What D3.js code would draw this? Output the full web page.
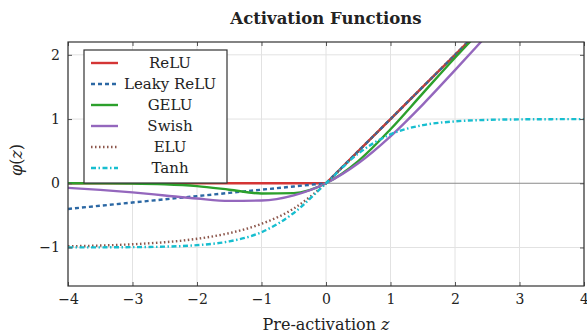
<!DOCTYPE html>
<html>
<head>
  <meta charset="utf-8">
  <title>Activation Functions</title>
  <script src="https://d3js.org/d3.v7.min.js"></script>
  <style>
    body { margin: 0; background: #fff; }
    text { font-family: "DejaVu Serif", "Liberation Serif", serif; fill: #222; }
  </style>
</head>
<body>
  <div id="chart"></div>
  <script>
    // sample positions along z
    var zs = [-4, -3.5, -3, -2.5, -2, -1.5, -1, -0.5, 0, 0.5, 1, 1.5, 2, 2.5, 3, 3.5, 4];

    // values
    var relu = [0, 0, 0, 0, 0, 0, 0, 0, 0, 0.5, 1, 1.5, 2, 2.5, 3, 3.5, 4];
    var leaky = [-0.4, -0.35, -0.3, -0.25, -0.2, -0.15, -0.1, -0.05, 0, 0.5, 1, 1.5, 2, 2.5, 3, 3.5, 4];
    var gelu = [0, -0.001, -0.004, -0.016, -0.045, -0.1, -0.159, -0.154, 0, 0.346, 0.841, 1.4, 1.955, 2.485, 2.996, 3.5, 4];
    var swish = [-0.072, -0.103, -0.142, -0.19, -0.238, -0.274, -0.269, -0.189, 0, 0.311, 0.731, 1.226, 1.762, 2.31, 2.858, 3.397, 3.928];
    var elu = [-0.982, -0.97, -0.95, -0.918, -0.865, -0.777, -0.632, -0.394, 0, 0.5, 1, 1.5, 2, 2.5, 3, 3.5, 4];
    var tanh = [-0.999, -0.998, -0.995, -0.987, -0.964, -0.905, -0.762, -0.462, 0, 0.462, 0.762, 0.905, 0.964, 0.987, 0.995, 0.998, 0.999];

    var xTicks = [-4, -3, -2, -1, 0, 1, 2, 3, 4];
    var yTicks = [-1, 0, 1, 2];

    var series = [
      { name: "ReLU", values: relu, color: "#d43535", dash: null, curve: d3.curveLinear },
      { name: "Leaky ReLU", values: leaky, color: "#2c68a4", dash: "4,3", curve: d3.curveLinear },
      { name: "GELU", values: gelu, color: "#2ca02c", dash: null, curve: d3.curveMonotoneX },
      { name: "Swish", values: swish, color: "#9467bd", dash: null, curve: d3.curveMonotoneX },
      { name: "ELU", values: elu, color: "#8c564b", dash: "1.5,2.5", curve: d3.curveMonotoneX },
      { name: "Tanh", values: tanh, color: "#17becf", dash: "5,2.5,1.5,2.5", curve: d3.curveMonotoneX }
    ];

    var W = 587, H = 336;
    var margin = { top: 42, right: 3, bottom: 50, left: 68 };
    var width = W - margin.left - margin.right;
    var height = H - margin.top - margin.bottom;

    var svg = d3.select("#chart").append("svg")
      .attr("width", W)
      .attr("height", H);

    var g = svg.append("g")
      .attr("transform", "translate(" + margin.left + "," + margin.top + ")");

    var x = d3.scaleLinear().domain([-4, 4]).range([0, width]);
    var y = d3.scaleLinear().domain([-1.6, 2.2]).range([height, 0]);

    // grid
    g.selectAll(".vgrid").data(xTicks).join("line")
      .attr("x1", d => x(d)).attr("x2", d => x(d))
      .attr("y1", 0).attr("y2", height)
      .attr("stroke", "#e2e2e2").attr("stroke-width", 1);
    g.selectAll(".hgrid").data(yTicks).join("line")
      .attr("x1", 0).attr("x2", width)
      .attr("y1", d => y(d)).attr("y2", d => y(d))
      .attr("stroke", d => d === 0 ? "#8a8a8a" : "#e2e2e2")
      .attr("stroke-width", d => d === 0 ? 1.2 : 1);

    // curves
    svg.append("defs").append("clipPath").attr("id", "clip")
      .append("rect").attr("width", width).attr("height", height);

    var plot = g.append("g").attr("clip-path", "url(#clip)");
    series.forEach(function (s) {
      var line = d3.line()
        .x((d, i) => x(zs[i]))
        .y(d => y(d))
        .curve(s.curve);
      plot.append("path")
        .datum(s.values)
        .attr("d", line)
        .attr("fill", "none")
        .attr("stroke", s.color)
        .attr("stroke-width", 2.4)
        .attr("stroke-dasharray", s.dash);
    });

    // axes with inward ticks on all sides
    var fmt = d => d < 0 ? "\u2212" + Math.abs(d) : d;
    var xAxis = g.append("g").attr("transform", "translate(0," + height + ")")
      .call(d3.axisBottom(x).tickValues(xTicks).tickSize(-4).tickPadding(8).tickFormat(fmt));
    var xTop = g.append("g")
      .call(d3.axisTop(x).tickValues(xTicks).tickSize(-4).tickFormat(""));
    var yAxis = g.append("g")
      .call(d3.axisLeft(y).tickValues(yTicks).tickSize(-4).tickPadding(8).tickFormat(fmt));
    var yRight = g.append("g").attr("transform", "translate(" + width + ",0)")
      .call(d3.axisRight(y).tickValues(yTicks).tickSize(-4).tickFormat(""));

    [xAxis, xTop, yAxis, yRight].forEach(function (a) {
      a.select(".domain").remove();
      a.selectAll(".tick line").attr("stroke", "#555");
      a.selectAll(".tick text").style("font-size", "14px").attr("fill", "#222");
    });

    g.append("rect")
      .attr("width", width).attr("height", height)
      .attr("fill", "none").attr("stroke", "#333").attr("stroke-width", 1.2);

    // legend
    var legend = g.append("g").attr("transform", "translate(16,8)");
    legend.append("rect")
      .attr("width", 143).attr("height", 133)
      .attr("fill", "#fff").attr("stroke", "#333").attr("stroke-width", 1.2);
    var rows = legend.selectAll(".row").data(series).join("g")
      .attr("transform", (d, i) => "translate(0," + (13 + i * 21) + ")");
    rows.append("line")
      .attr("x1", 7).attr("x2", 34)
      .attr("stroke", d => d.color)
      .attr("stroke-width", 2.4)
      .attr("stroke-dasharray", d => d.dash);
    rows.append("text")
      .attr("x", 86).attr("y", 5)
      .attr("text-anchor", "middle")
      .style("font-size", "15px")
      .text(d => d.name);

    // titles
    svg.append("text")
      .attr("x", margin.left + width / 2).attr("y", 24)
      .attr("text-anchor", "middle")
      .style("font-size", "16.5px").style("font-weight", "bold")
      .text("Activation Functions");

    svg.append("text")
      .attr("x", margin.left + width / 2).attr("y", 330)
      .attr("text-anchor", "middle")
      .style("font-size", "16px")
      .html("Pre-activation <tspan font-style='italic'>z</tspan>");

    svg.append("text")
      .attr("transform", "translate(22," + (margin.top + height / 2 - 4) + ") rotate(-90)")
      .attr("text-anchor", "middle")
      .style("font-size", "16px")
      .html("<tspan font-style='italic'>\u03c6</tspan>(<tspan font-style='italic'>z</tspan>)");
  </script>
</body>
</html>
